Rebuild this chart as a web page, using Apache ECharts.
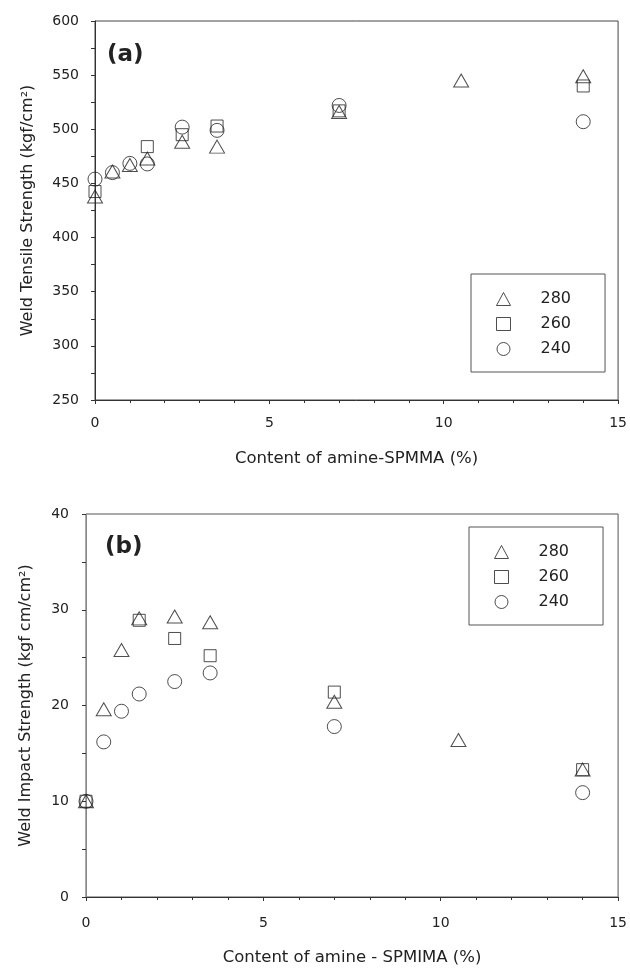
<!DOCTYPE html>
<html>
<head>
<meta charset="utf-8">
<script src="https://cdn.jsdelivr.net/npm/echarts@6/dist/echarts.min.js"></script>
<style>html,body{margin:0;padding:0;background:#fff;}#c{width:630px;height:969px;}</style>
</head>
<body>
<div id="c"></div>
<script>
// ---- data ----
const seriesNames = ['280', '260', '240'];
// (a) Weld tensile strength, kgf/cm2, vs content of amine-SPMMA (%)
const tensile280 = [[0,438],[0.5,461],[1,467],[1.5,473],[2.5,488.5],[3.5,484],[7,516],[10.5,545],[14,549]];
const tensile260 = [[0,442.5],[1.5,484],[2.5,495],[3.5,503],[7,517],[14,540]];
const tensile240 = [[0,454],[0.5,460],[1,468.5],[1.5,468],[2.5,502],[3.5,499],[7,522],[14,507]];
// (b) Weld impact strength, kgf cm/cm2
const impact280 = [[0,10],[0.5,19.6],[1,25.8],[1.5,29.1],[2.5,29.3],[3.5,28.7],[7,20.4],[10.5,16.4],[14,13.3]];
const impact260 = [[0,10],[1.5,28.9],[2.5,27],[3.5,25.2],[7,21.4],[14,13.3]];
const impact240 = [[0,10],[0.5,16.2],[1,19.4],[1.5,21.2],[2.5,22.5],[3.5,23.4],[7,17.8],[14,10.9]];

const xTitleA = 'Content of amine-SPMMA (%)';
const xTitleB = 'Content of amine - SPMIMA (%)';
const yTitleA = 'Weld Tensile Strength (kgf/cm²)';
const yTitleB = 'Weld Impact Strength (kgf cm/cm²)';

// ---- styles ----
const FONT = 'DejaVu Sans';
const symbols = { '280': 'triangle', '260': 'rect', '240': 'circle' };
const sizes = { '280': [15, 13], '260': 12, '240': 14 };

function mkSeries(name, data, idx) {
  return {
    type: 'scatter', name: name, data: data,
    xAxisIndex: idx, yAxisIndex: idx,
    symbol: symbols[name], symbolSize: sizes[name],
    itemStyle: { color: 'transparent', borderColor: '#222', borderWidth: 1 },
    emphasis: { disabled: true },
    z: 3
  };
}

function xAxis(idx, name, gap, margin, lineColor) {
  return {
    type: 'value', gridIndex: idx, min: 0, max: 15, interval: 5,
    name: name, nameLocation: 'middle', nameGap: gap,
    nameTextStyle: { fontFamily: FONT, fontSize: 16.5, color: '#222' },
    axisLine: { show: true, onZero: false, lineStyle: { color: lineColor, width: 1 } },
    axisTick: { show: true, inside: false, length: 4, lineStyle: { color: '#333' } },
    minorTick: { show: true, splitNumber: 5, length: 3, lineStyle: { color: '#333' } },
    axisLabel: { fontFamily: FONT, fontSize: 14, color: '#222', margin: margin },
    splitLine: { show: false }
  };
}

function yAxis(idx, name, min, max, interval, gap, margin, lineColor) {
  return {
    type: 'value', gridIndex: idx, min: min, max: max, interval: interval,
    name: name, nameLocation: 'middle', nameGap: gap, nameRotate: 90,
    nameTextStyle: { fontFamily: FONT, fontSize: 16, color: '#222' },
    axisLine: { show: true, onZero: false, lineStyle: { color: lineColor, width: 1 } },
    axisTick: { show: true, inside: false, length: 4, lineStyle: { color: '#333' } },
    minorTick: { show: true, splitNumber: 2, length: 4, lineStyle: { color: '#333' } },
    axisLabel: { fontFamily: FONT, fontSize: 14, color: '#222', margin: margin },
    splitLine: { show: false }
  };
}

function legend(top, left) {
  return {
    show: true, orient: 'vertical', left: left, top: top,
    data: seriesNames,
    itemWidth: 14, itemHeight: 13, itemGap: 9,
    padding: [17, 34, 15, 25],
    borderColor: '#555', borderWidth: 1,
    textStyle: { fontFamily: FONT, fontSize: 16, color: '#222', lineHeight: 14, padding: [0, 0, 0, 25] },
    itemStyle: { color: 'transparent', borderColor: '#222', borderWidth: 1 },
    selectedMode: false
  };
}

const chart = echarts.init(document.getElementById('c'), null, { renderer: 'canvas' });
chart.setOption({
  backgroundColor: '#fff',
  animation: false,
  grid: [
    { left: 95, top: 21, width: 524, height: 379, show: true, borderColor: '#444', borderWidth: 1, backgroundColor: 'transparent' },
    { left: 86, top: 514, width: 533, height: 383, show: true, borderColor: '#555', borderWidth: 1, backgroundColor: 'transparent' }
  ],
  xAxis: [ xAxis(0, xTitleA, 50, 16, '#333'), xAxis(1, xTitleB, 52, 19, '#333') ],
  yAxis: [ yAxis(0, yTitleA, 250, 600, 50, 59, 16, '#333'), yAxis(1, yTitleB, 0, 40, 10, 52, 17, '#888') ],
  legend: [ legend(274, 471), legend(527, 469) ],
  graphic: [
    { type: 'text', left: 107, top: 44, style: { text: '(a)', fontFamily: FONT, fontWeight: 'bold', fontSize: 23, fill: '#222' } },
    { type: 'text', left: 105, top: 536, style: { text: '(b)', fontFamily: FONT, fontWeight: 'bold', fontSize: 23, fill: '#222' } }
  ],
  series: [
    mkSeries('280', tensile280, 0), mkSeries('260', tensile260, 0), mkSeries('240', tensile240, 0),
    mkSeries('280', impact280, 1), mkSeries('260', impact260, 1), mkSeries('240', impact240, 1)
  ]
});
</script>
</body>
</html>
